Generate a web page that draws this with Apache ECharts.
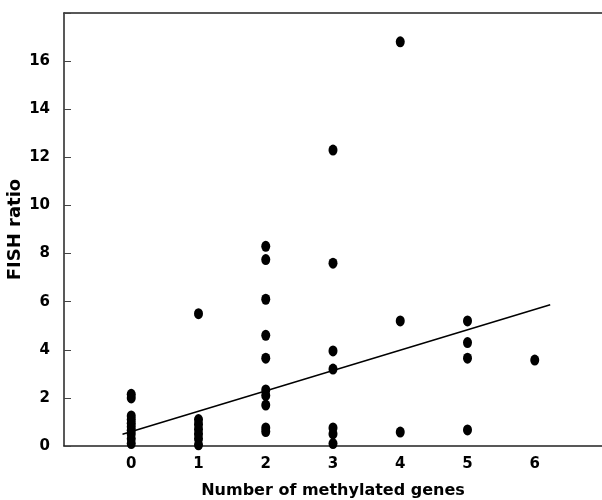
<!DOCTYPE html>
<html>
<head>
<meta charset="utf-8">
<script src="https://cdn.jsdelivr.net/npm/echarts@6/dist/echarts.min.js"></script>
<style>
  html, body { margin: 0; padding: 0; background: #fff; }
  #chart { width: 602px; height: 500px; }
</style>
</head>
<body>
<div id="chart"></div>
<script>
// 甲基化基因数量 vs FISH ratio
var genes0 = [2.15, 2.0, 1.25, 1.1, 0.95, 0.8, 0.65, 0.5, 0.3, 0.1];
var genes1 = [5.5, 1.1, 0.9, 0.7, 0.5, 0.3, 0.05];
var genes2 = [8.3, 7.75, 6.1, 4.6, 3.65, 2.33, 2.1, 1.7, 0.75, 0.6];
var genes3 = [12.3, 7.6, 3.95, 3.2, 0.75, 0.5, 0.1];
var genes4 = [16.8, 5.2, 0.58];
var genes5 = [5.2, 4.3, 3.65, 0.67];
var genes6 = [3.57];
var xTicks = [0, 1, 2, 3, 4, 5, 6];
// regression line end points
var fitX = [-0.13, 6.23];
var fitY = [0.49, 5.875];

var groups = [genes0, genes1, genes2, genes3, genes4, genes5, genes6];
var points = [];
groups.forEach(function (vals, i) {
  vals.forEach(function (v) { points.push([i, v]); });
});

var fontName = "DejaVu Sans, Liberation Sans, sans-serif";
var labelFont = { fontFamily: fontName, fontWeight: "bold", fontSize: 15, color: "#000" };

var chart = echarts.init(document.getElementById("chart"));
chart.setOption({
  animation: false,
  grid: { left: 64, right: 0, top: 13, bottom: 54, outerBoundsMode: "none", containLabel: false },
  xAxis: [
    {
      type: "value",
      min: -1,
      max: 7,
      interval: 1,
      splitLine: { show: false },
      axisTick: { show: false },
      axisLine: { onZero: false, lineStyle: { color: "#222", width: 1.5 } },
      axisLabel: Object.assign({
        margin: 11,
        formatter: function (v) { return xTicks.indexOf(v) >= 0 ? String(v) : ""; }
      }, labelFont),
      name: "Number of methylated genes",
      nameLocation: "middle",
      nameGap: 37,
      nameMoveOverlap: false,
      nameTextStyle: { fontFamily: fontName, fontWeight: "bold", fontSize: 16, color: "#000" }
    },
    {
      type: "value",
      position: "top",
      min: -1,
      max: 7,
      splitLine: { show: false },
      axisTick: { show: false },
      axisLabel: { show: false },
      axisLine: { show: true, onZero: false, lineStyle: { color: "#222", width: 1.5 } }
    }
  ],
  yAxis: {
    type: "value",
    min: 0,
    max: 18,
    interval: 2,
    splitLine: { show: false },
    axisLine: { show: true, onZero: false, lineStyle: { color: "#222", width: 1.5 } },
    axisTick: { show: true, inside: true, length: 7, lineStyle: { color: "#444" } },
    axisLabel: Object.assign({
      margin: 14,
      formatter: function (v) { return v >= 18 ? "" : String(v); }
    }, labelFont),
    name: "FISH ratio",
    nameLocation: "middle",
    nameGap: 40,
    nameMoveOverlap: false,
    nameTextStyle: { fontFamily: fontName, fontWeight: "bold", fontSize: 18, color: "#000" }
  },
  series: [
    {
      type: "scatter",
      data: points,
      symbol: "circle",
      symbolSize: [9, 11],
      itemStyle: { color: "#000", opacity: 1 }
    },
    {
      type: "line",
      data: [[fitX[0], fitY[0]], [fitX[1], fitY[1]]],
      symbol: "none",
      lineStyle: { color: "#000", width: 1.5 }
    }
  ]
});
</script>
</body>
</html>
